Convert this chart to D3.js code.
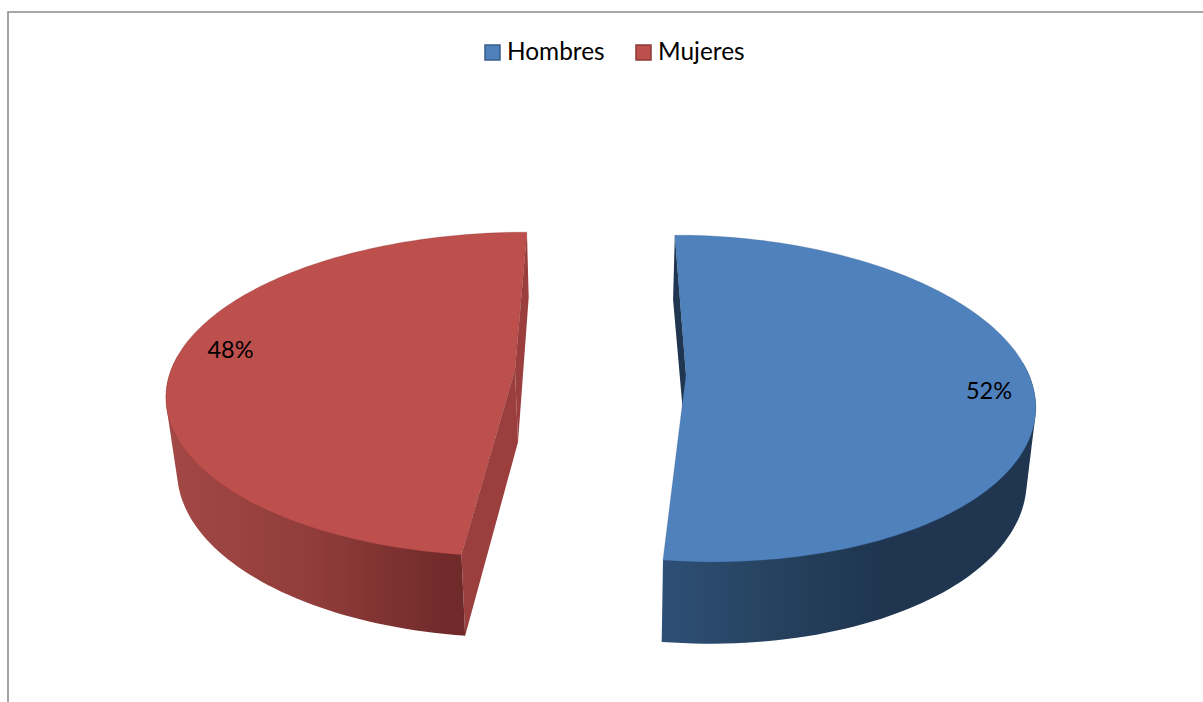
<!DOCTYPE html>
<html>
<head>
<meta charset="utf-8">
<script src="https://cdn.jsdelivr.net/npm/d3@7/dist/d3.min.js"></script>
<style>
  html, body { margin: 0; background: #fff; }
  svg { display: block; }
  text { font-family: Lato, "Open Sans", sans-serif; fill: #000; }
</style>
</head>
<body>
<div id="chart"></div>
<script>
const categories = ['Hombres', 'Mujeres'];
const values = [52, 48];
const labels = ['52%', '48%'];
const topColors = ['#4f81bd', '#bd4f4c'];
const edgeColors = ['#385d8a', '#8c3836'];

const w = 1203;
const h = 702;

// every slice is exploded so it gets its own plane, top and base of the 3d disc
// (u, v) is a point on the unit circle, k is the perspective
const planes = [
  {
    top: { ax: 338, bx: 81, cx: 691, by: -106, cy: 375, k: 0.144, apex: -5 },
    base: { ax: 331, bx: 81, cx: 689, by: -104, cy: 447, k: 0.144, apex: -3 },
    wall: ['#2e4f76', '#26425f', '#1f3550'],
    cut: '#1f3550',
    labelAngle: 96, labelR: 0.87
  },
  {
    top: { ax: 350, bx: 85, cx: 521, by: -103, cy: 370, k: 0.15, apex: -6 },
    base: { ax: 341, bx: 85, cx: 523, by: -100, cy: 442, k: 0.15, apex: -5 },
    wall: ['#a24845', '#913d3b', '#6f2a29'],
    cut: '#9a3f3d',
    labelAngle: 279, labelR: 0.86
  }
];

function project(p, u, v) {
  const d = 1 + p.k * v;
  return [(p.ax * u + p.bx * v + p.cx) / d, (p.by * v + p.cy) / d];
}
function rim(p, a) {
  return project(p, Math.sin(a), Math.cos(a));
}
function apex(p) {
  const c = project(p, 0, 0);
  return [c[0] + p.apex, c[1]];
}

const svg = d3.select('#chart').append('svg').attr('width', w).attr('height', h);
const defs = svg.append('defs');
const line = d3.line();

// grey frame, only top and left show in the crop
svg.append('path')
   .attr('d', line([[8, h], [8, 12], [w, 12]]))
   .attr('fill', 'none')
   .attr('stroke', '#8c8c8c')
   .attr('stroke-width', 1.6);

const arcs = d3.pie().sort(null).startAngle(0).endAngle(2 * Math.PI)(values);

arcs.forEach((d, i) => {
  const pl = planes[i];
  const g = svg.append('g').attr('class', 'slice');
  const angles = d3.range(0, 121).map(t => d.startAngle + (d.endAngle - d.startAngle) * t / 120);
  const topRim = angles.map(a => rim(pl.top, a));
  const baseRim = angles.map(a => rim(pl.base, a));

  // cut faces behind the outer wall
  const cuts = i === 0 ? [0] : [0, 120];
  cuts.forEach(c => {
    g.append('path')
     .attr('d', line([topRim[c], baseRim[c], apex(pl.base), apex(pl.top)]) + 'Z')
     .attr('fill', pl.cut);
  });

  // outer wall, only the front of the disc, gradient runs along x
  const gradId = 'wall' + i;
  const wallRange = i === 0 ? [662, 880] : [170, 450];
  const grad = defs.append('linearGradient').attr('id', gradId)
    .attr('gradientUnits', 'userSpaceOnUse')
    .attr('x1', wallRange[0]).attr('x2', wallRange[1]).attr('y1', 0).attr('y2', 0);
  pl.wall.forEach((c, j) => grad.append('stop').attr('offset', j / (pl.wall.length - 1)).attr('stop-color', c));
  const front = angles.filter(a => Math.cos(a) < 0.1);
  const hull = d3.polygonHull(front.map(a => rim(pl.top, a)).concat(front.map(a => rim(pl.base, a))));
  g.append('path')
   .attr('d', line(hull) + 'Z')
   .attr('fill', 'url(#' + gradId + ')');

  // top face
  g.append('path')
   .attr('d', line(topRim.concat([apex(pl.top)])) + 'Z')
   .attr('fill', topColors[i])
   .attr('stroke', edgeColors[i])
   .attr('stroke-opacity', 0.35)
   .attr('stroke-width', 0.8);

  const la = pl.labelAngle * Math.PI / 180;
  const lp = project(pl.top, pl.labelR * Math.sin(la), pl.labelR * Math.cos(la));
  svg.append('text')
     .attr('x', lp[0]).attr('y', lp[1])
     .attr('text-anchor', 'middle')
     .attr('dominant-baseline', 'central')
     .attr('font-size', 23.5)
     .text(labels[i]);
});

// legend
const legendX = d3.scaleOrdinal().domain(categories).range([485, 636]);
const legend = svg.selectAll('.legend').data(categories).enter().append('g')
  .attr('class', 'legend')
  .attr('transform', d => 'translate(' + legendX(d) + ',45)');
legend.append('rect')
  .attr('width', 15).attr('height', 15)
  .attr('fill', (d, i) => topColors[i])
  .attr('stroke', (d, i) => edgeColors[i])
  .attr('stroke-width', 1.5);
legend.append('text')
  .attr('x', 22).attr('y', 14.5)
  .attr('font-size', 24.4)
  .text(d => d);
</script>
</body>
</html>
